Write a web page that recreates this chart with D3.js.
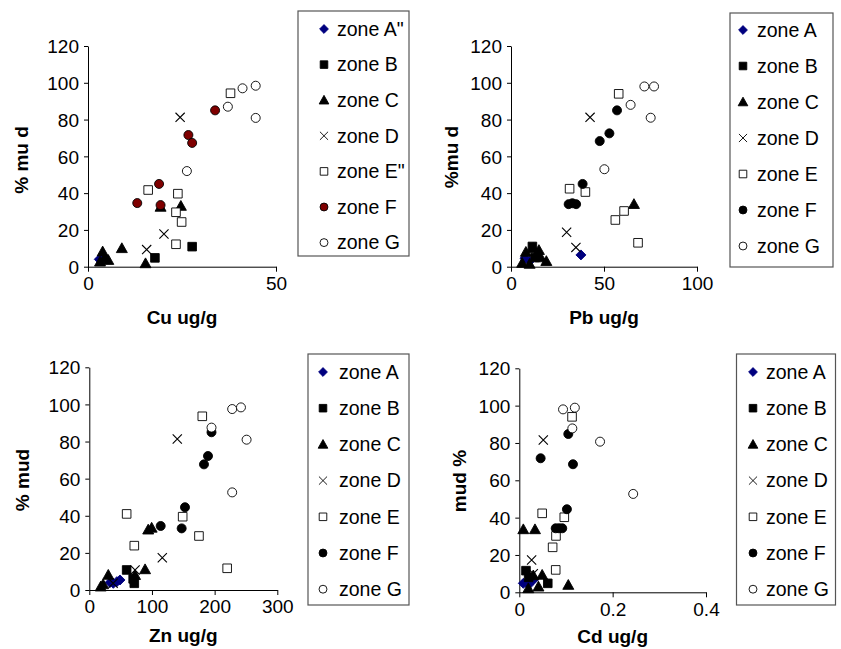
<!DOCTYPE html>
<html>
<head>
<meta charset="utf-8">
<script src="https://cdn.jsdelivr.net/npm/d3@7"></script>
<style>
  body { margin: 0; background: #fff; }
  svg { display: block; font-family: "Liberation Sans", Arial, sans-serif; }
</style>
</head>
<body>
<div class="chart"></div>
<script>
// zones and their legend labels
const zones = ["A", "B", "C", "D", "E", "F", "G"]
const legendCu = ['zone A"', "zone B", "zone C", "zone D", 'zone E"', "zone F", "zone G"]
const legendOther = ["zone A", "zone B", "zone C", "zone D", "zone E", "zone F", "zone G"]

const yTicks = [0, 20, 40, 60, 80, 100, 120]
const cuTicks = [0, 50]
const pbTicks = [0, 50, 100]
const znTicks = [0, 100, 200, 300]
const cdTicks = [0, 0.2, 0.4]

// [zone, metal ug/g, % mud]
const cuPoints = [
  ["A", 3, 4], ["A", 4, 5],
  ["B", 17.8, 4.8], ["B", 27.7, 10.9],
  ["C", 3.2, 2.7], ["C", 3.9, 8.2], ["C", 5.4, 3.6], ["C", 4.5, 5], ["C", 9, 10], ["C", 15.3, 1.8], ["C", 19.3, 32.5], ["C", 24.7, 33],
  ["D", 15.6, 9.3], ["D", 20.2, 17.8], ["D", 24.5, 81.2],
  ["E", 16, 41.7], ["E", 23.9, 39.7], ["E", 23.4, 29.6], ["E", 24.9, 24.3], ["E", 23.4, 12.2], ["E", 37.9, 94.3],
  ["F", 13.1, 34.6], ["F", 19.3, 33.5], ["F", 18.9, 45], ["F", 26.7, 71.6], ["F", 27.7, 67.3], ["F", 33.8, 85],
  ["G", 26.3, 52], ["G", 37.2, 87], ["G", 41.1, 97], ["G", 44.6, 98.4], ["G", 44.6, 80.9]
]
const pbPoints = [
  ["A", 7.5, 4.6], ["A", 10, 3], ["A", 37.6, 6.4],
  ["B", 11.5, 11], ["B", 13, 5],
  ["C", 6, 2], ["C", 8, 8], ["C", 10, 1.5], ["C", 12, 10], ["C", 15, 9], ["C", 16, 5], ["C", 19, 3], ["C", 66.1, 34],
  ["D", 29.9, 18.7], ["D", 34.9, 10.5], ["D", 42.5, 81.2],
  ["E", 31.5, 42.4], ["E", 40, 40.6], ["E", 56.1, 25.4], ["E", 60.8, 30.3], ["E", 68.3, 13], ["E", 57.9, 94],
  ["F", 31, 34], ["F", 33, 34.5], ["F", 35, 34], ["F", 38.5, 45], ["F", 47.7, 68.3], ["F", 52.9, 72.5], ["F", 57, 85],
  ["G", 50.2, 53], ["G", 64.3, 88], ["G", 71.7, 98], ["G", 76.9, 98], ["G", 75.1, 81]
]
const znPoints = [
  ["A", 33, 4], ["A", 38.3, 3.6], ["A", 49, 5.4], ["A", 44, 4.5],
  ["B", 59.6, 10.8], ["B", 71.8, 3.6], ["B", 70, 6],
  ["C", 18.2, 1.8], ["C", 22, 3], ["C", 30.3, 8.1], ["C", 73, 8], ["C", 89, 11.1], ["C", 94, 32.5], ["C", 99.5, 33.5],
  ["D", 38, 3.6], ["D", 73, 10.8], ["D", 116.5, 17.4], ["D", 140.4, 81.4],
  ["E", 59.6, 41], ["E", 71.8, 23.9], ["E", 149, 39.5], ["E", 175, 29.1], ["E", 180.3, 93.6], ["E", 220, 11.7],
  ["F", 113.9, 34.5], ["F", 147.4, 33.2], ["F", 152.7, 44.6], ["F", 183, 67.7], ["F", 189.4, 72.2], ["F", 195, 85],
  ["G", 195, 87.5], ["G", 228, 97.5], ["G", 242, 98.4], ["G", 251, 81], ["G", 228, 52.6]
]
const cdPoints = [
  ["A", 0.0086, 4.8], ["A", 0.03, 6.6], ["A", 0.02, 4],
  ["B", 0.0143, 11.6], ["B", 0.02, 8], ["B", 0.061, 4.8],
  ["C", 0.0086, 33.7], ["C", 0.0336, 33.7], ["C", 0.0193, 2.1], ["C", 0.03, 9], ["C", 0.041, 3], ["C", 0.049, 9.3], ["C", 0.105, 3.9],
  ["D", 0.0264, 17.3], ["D", 0.03, 10], ["D", 0.0514, 81.6],
  ["E", 0.049, 42.3], ["E", 0.0714, 24.1], ["E", 0.078, 12], ["E", 0.0786, 30.2], ["E", 0.0964, 40.2], ["E", 0.113, 94],
  ["F", 0.0457, 71.8], ["F", 0.078, 34.3], ["F", 0.085, 34.3], ["F", 0.092, 34.3], ["F", 0.102, 44.5], ["F", 0.105, 84.8], ["F", 0.115, 68.6],
  ["G", 0.0937, 98], ["G", 0.119, 98.9], ["G", 0.1136, 87.8], ["G", 0.173, 80.7], ["G", 0.244, 52.7]
]

const width = 841, height = 649

const svg = d3.select(".chart")
  .append("svg")
  .attr("width", width)
  .attr("height", height)

// marker shapes, s = scale
function shape(zone, s) {
  const r = 5 * s
  if (zone == "A") return `M0,${-r}L${r},0L0,${r}L${-r},0Z`
  if (zone == "B" || zone == "E") { const h = 4.3 * s; return `M${-h},${-h}H${h}V${h}H${-h}Z` }
  if (zone == "C") { const w = 5.5 * s; return `M0,${-5.5 * s}L${w},${4.3 * s}L${-w},${4.3 * s}Z` }
  if (zone == "D") { const h = 4.6 * s; return `M${-h},${-h}L${h},${h}M${-h},${h}L${h},${-h}` }
  const c = 4.5 * s
  return `M${c},0A${c},${c} 0 1,1 ${-c},0A${c},${c} 0 1,1 ${c},0Z`
}
function fill(zone, redF) {
  if (zone == "A") return "#00007f"
  if (zone == "D" || zone == "E" || zone == "G") return zone == "D" ? "none" : "#fff"
  if (zone == "F" && redF) return "#7f0000"
  return "#000"
}
function stroke(zone) {
  return zone == "A" ? "#00007f" : "#000"
}

const panels = [
  {data: cuPoints, ticks: cuTicks, dom: [0, 50], x0: 88, x1: 276, y0: 266.7, y1: 46, xTitle: "Cu ug/g", yTitle: "% mu d",
   titleY: 324, yTx: 28, yTy: 160, legend: legendCu, redF: true, box: [298, 11, 111, 245], mx: 324, tx: 337, ly: 29, lstep: 35.6},
  {data: pbPoints, ticks: pbTicks, dom: [0, 100], x0: 511, x1: 697, y0: 266.7, y1: 46, xTitle: "Pb ug/g", yTitle: "%mu d",
   titleY: 324, yTx: 458, yTy: 157, legend: legendOther, redF: false, box: [730, 13, 103, 254], mx: 743, tx: 757, ly: 30, lstep: 36},
  {data: znPoints, ticks: znTicks, dom: [0, 300], x0: 89.3, x1: 277.3, y0: 590, y1: 367.3, xTitle: "Zn ug/g", yTitle: "% mud",
   titleY: 642, yTx: 29, yTy: 480, legend: legendOther, redF: false, box: [308, 354, 101, 251], mx: 323, tx: 339, ly: 372, lstep: 36.2},
  {data: cdPoints, ticks: cdTicks, dom: [0, 0.4], x0: 519.3, x1: 706, y0: 592.3, y1: 368.3, xTitle: "Cd ug/g", yTitle: "mud %",
   titleY: 643, yTx: 466, yTy: 481, legend: legendOther, redF: false, box: [736.5, 354, 99, 251], mx: 753, tx: 766, ly: 372, lstep: 36.2}
]

panels.forEach(p => {
  const x = d3.scaleLinear().domain(p.dom).range([p.x0, p.x1])
  const y = d3.scaleLinear().domain([0, 120]).range([p.y0, p.y1])
  const g = svg.append("g")

  const xAxis = g.append("g")
    .attr("transform", `translate(0,${p.y0})`)
    .call(d3.axisBottom(x).tickValues(p.ticks).tickSize(5).tickSizeOuter(0).tickFormat(d3.format("")))
  const yAxis = g.append("g")
    .attr("transform", `translate(${p.x0},0)`)
    .call(d3.axisLeft(y).tickValues(yTicks).tickSize(4).tickSizeOuter(0))

  ;[xAxis, yAxis].forEach(a => {
    a.select(".domain").attr("stroke", "#000")
    a.selectAll(".tick line").attr("stroke", "#000")
    a.selectAll("text").attr("fill", "#000").attr("font-size", "19px").attr("font-family", null)
  })
  xAxis.selectAll("text").attr("y", 10).attr("dy", "0.71em")
  yAxis.selectAll("text").attr("x", -9).attr("dy", "0.35em")

  g.append("text")
    .attr("x", (p.x0 + p.x1) / 2)
    .attr("y", p.titleY)
    .attr("text-anchor", "middle")
    .attr("font-weight", "bold")
    .attr("font-size", "19px")
    .text(p.xTitle)
  g.append("text")
    .attr("transform", `translate(${p.yTx},${p.yTy}) rotate(-90)`)
    .attr("text-anchor", "middle")
    .attr("font-weight", "bold")
    .attr("font-size", "19px")
    .text(p.yTitle)

  // points, drawn zone by zone
  zones.forEach(z => {
    g.append("g").selectAll("path")
      .data(p.data.filter(d => d[0] == z))
      .join("path")
      .attr("transform", d => `translate(${x(d[1])},${y(d[2])})`)
      .attr("d", shape(z, 1))
      .attr("fill", fill(z, p.redF))
      .attr("stroke", stroke(z))
      .attr("stroke-width", z == "D" ? 1.1 : 0.9)
  })

  // legend
  const lg = g.append("g")
  lg.append("rect")
    .attr("x", p.box[0]).attr("y", p.box[1])
    .attr("width", p.box[2]).attr("height", p.box[3])
    .attr("fill", "#fff").attr("stroke", "#555").attr("stroke-width", 1.2)
  const items = lg.selectAll(".item")
    .data(zones)
    .join("g")
    .attr("transform", (d, i) => `translate(0,${p.ly + i * p.lstep})`)
  items.append("path")
    .attr("transform", `translate(${p.mx},0)`)
    .attr("d", d => shape(d, 0.88))
    .attr("fill", d => fill(d, p.redF))
    .attr("stroke", d => stroke(d))
    .attr("stroke-width", 0.9)
  items.append("text")
    .attr("x", p.tx)
    .attr("dy", "0.35em")
    .attr("font-size", "19.5px")
    .text((d, i) => p.legend[i])
})
</script>
</body>
</html>
